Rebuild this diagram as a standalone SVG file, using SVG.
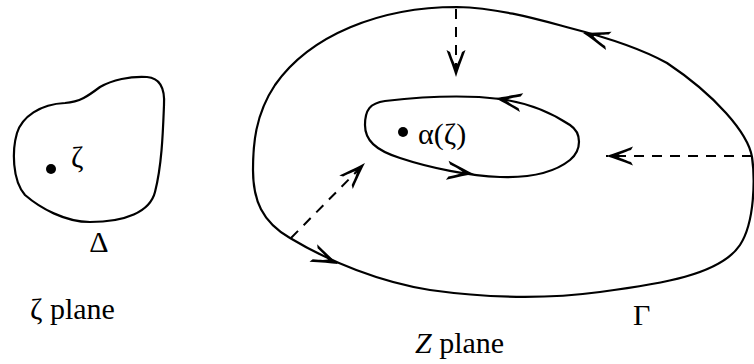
<svg xmlns="http://www.w3.org/2000/svg" xmlns:xlink="http://www.w3.org/1999/xlink" width="754" height="364" viewBox="0 0 754 364">
<style>
.curve{fill:none;stroke:#000;stroke-width:2.2;stroke-linejoin:round}
.dash{fill:none;stroke:#000;stroke-width:2;stroke-dasharray:10 8}
.ah{fill:#000;stroke:none}
.lbl{font-family:"Liberation Serif","Times New Roman","DejaVu Serif",serif;font-size:30px;fill:#000}
.dot{fill:#000}
</style>
<defs>
<path id="ah" class="ah" d="M0,0 C-7,-2 -16,-5.5 -27,-9.5 L-25,-6 C-18,-3.6 -14,-2 -11,0 C-14,2 -18,3.6 -25,6 L-27,9.5 C-16,5.5 -7,2 0,0 Z"/>
<marker id="arr" markerUnits="userSpaceOnUse" markerWidth="30" markerHeight="20" viewBox="-28 -10 30 20" refX="0" refY="0" orient="auto" overflow="visible">
<use xlink:href="#ah" href="#ah"/>
</marker>
</defs>
<g id="delta-region">
<path class="curve" d="M147,77 C160,78 165,88 164,105 C163,130 162,165 155,192 C150,212 125,222 90,222 C65,222 40,208 25,195 C12,180 12,150 17,133 C22,117 40,104 65,103 C80,102 88,96 100,87 C112,80 130,76 147,77 Z"/>
<circle class="dot" cx="51" cy="169" r="5"/>
<text class="lbl" x="71" y="167">ζ</text>
<text class="lbl" x="99" y="252" text-anchor="middle">Δ</text>
<text class="lbl" x="30" y="319">ζ plane</text>
</g>
<g id="gamma-contour">
<path class="curve" d="M457,7 C380,7 310,35 275,85 C255,115 253,145 253,170 C253,200 262,222 290,238 C330,262 380,282 430,290 C480,297 540,300 600,292 C660,284 720,275 740,245 C755,222 755,178 752,157 C748,133 715,95 667,63 C640,48 605,37 570,28 C540,20 500,8 457,7 Z"/>
<use xlink:href="#ah" href="#ah" transform="translate(583,33) rotate(197)"/>
<use xlink:href="#ah" href="#ah" transform="translate(338,264) rotate(24)"/>
<text class="lbl" x="633" y="325">Γ</text>
<text class="lbl" x="415" y="353"><tspan font-style="italic">Z</tspan> plane</text>
</g>
<g id="inner-contour">
<path class="curve" d="M365,125 C365,110 370,103 385,101 C420,97 460,94 500,99 C530,103 555,115 570,125 C582,133 582,150 570,160 C555,172 530,178 500,177 C470,176 430,168 400,158 C375,150 365,140 365,125 Z"/>
<use xlink:href="#ah" href="#ah" transform="translate(495,98) rotate(190)"/>
<use xlink:href="#ah" href="#ah" transform="translate(474,174) rotate(8)"/>
<circle class="dot" cx="403" cy="132" r="5"/>
<text class="lbl" x="418" y="144">α(ζ)</text>
</g>
<g id="connectors">
<line class="dash" x1="456" y1="9" x2="456" y2="77" marker-end="url(#arr)"/>
<line class="dash" x1="291" y1="238" x2="365" y2="163" marker-end="url(#arr)"/>
<line class="dash" x1="752" y1="156" x2="606" y2="156" marker-end="url(#arr)"/>
</g>
</svg>
